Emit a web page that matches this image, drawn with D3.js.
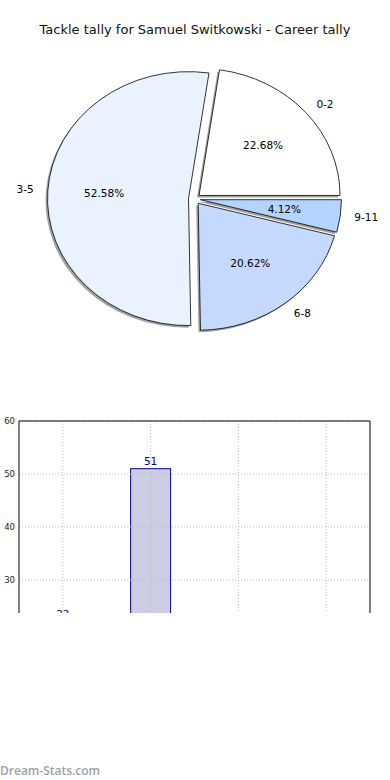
<!DOCTYPE html>
<html>
<head>
<meta charset="utf-8">
<script src="https://cdn.jsdelivr.net/npm/d3@7"></script>
<style>
  body { margin: 0; background: #fff; }
  svg { display: block; font-family: "DejaVu Sans", sans-serif; }
</style>
</head>
<body>
<svg id="chart" width="390" height="780"></svg>
<script>
const title = 'Tackle tally for Samuel Switkowski - Career tally';
const categories = ['0-2', '3-5', '6-8', '9-11'];
const tallies = [22, 51, 20, 4];
const sliceColors = ['#ffffff', '#eaf1ff', '#c5d9ff', '#b3d4ff'];
const yTicks = [30, 40, 50, 60];

const svg = d3.select('svg#chart');

svg.append('text')
  .attr('x', 195).attr('y', 34)
  .attr('text-anchor', 'middle')
  .attr('font-size', 13)
  .attr('fill', '#111')
  .text(title);

// ---- pie (matplotlib style: starts east, counterclockwise, squashed) ----
const rx = 141, ry = 127, explode = 6;
const cx = 194.5, cy = 199;
const total = d3.sum(tallies);

const pie = d3.pie().sort(null)
  .startAngle(Math.PI / 2)
  .endAngle(Math.PI / 2 - 2 * Math.PI);
const arcs = pie(tallies);
const arc = d3.arc().innerRadius(0).outerRadius(rx);

// unit direction of a slice's middle, screen coords
function mid(d) {
  const a = (d.startAngle + d.endAngle) / 2;
  return [Math.sin(a), -Math.cos(a)];
}
function shift(d, dx, dy) {
  const [ux, uy] = mid(d);
  return `translate(${cx + ux * explode + dx},${cy + uy * explode * ry / rx + dy})`;
}

const shadows = svg.append('g');
shadows.selectAll('path')
  .data(arcs)
  .join('path')
  .attr('transform', d => shift(d, -2, 2) + ` scale(1,${ry / rx})`)
  .attr('d', arc)
  .attr('fill', '#555')
  .attr('fill-opacity', 0.55);

const slices = svg.append('g').selectAll('g')
  .data(arcs)
  .join('g')
  .attr('transform', d => shift(d, 0, 0));

slices.append('path')
  .attr('transform', `scale(1,${ry / rx})`)
  .attr('d', arc)
  .attr('fill', (d, i) => sliceColors[i])
  .attr('stroke', '#000')
  .attr('stroke-width', 0.8)
  .attr('vector-effect', 'non-scaling-stroke');

slices.append('text')
  .attr('x', d => mid(d)[0] * rx * 1.1)
  .attr('y', d => mid(d)[1] * ry * 1.1)
  .attr('dy', '0.35em')
  .attr('text-anchor', d => mid(d)[0] > 0 ? 'start' : 'end')
  .attr('font-size', 10.5)
  .attr('fill', '#000')
  .text((d, i) => categories[i]);

slices.append('text')
  .attr('x', d => mid(d)[0] * rx * 0.6)
  .attr('y', d => mid(d)[1] * ry * 0.6)
  .attr('dy', '0.35em')
  .attr('text-anchor', 'middle')
  .attr('font-size', 10.5)
  .attr('fill', '#000')
  .text(d => (d.value / total * 100).toFixed(2) + '%');

// ---- bar chart (cut off at the bottom, as in the picture) ----
const plotLeft = 19, plotRight = 370, plotTop = 421, zeroY = 739;
const clipBottom = 613;

svg.append('defs').append('clipPath').attr('id', 'cut')
  .append('rect').attr('x', 0).attr('y', 0).attr('width', 390).attr('height', clipBottom);

const barG = svg.append('g').attr('clip-path', 'url(#cut)');

const x = d3.scaleBand().domain(categories).range([plotLeft, plotRight]);
const y = d3.scaleLinear().domain([0, 60]).range([zeroY, plotTop]);

barG.selectAll('rect.bar')
  .data(tallies)
  .join('rect')
  .attr('class', 'bar')
  .attr('x', (d, i) => x(categories[i]) + x.bandwidth() / 2 - 20)
  .attr('width', 40)
  .attr('y', d => y(d))
  .attr('height', d => y(0) - y(d))
  .attr('fill', '#cccce4')
  .attr('stroke', '#000080')
  .attr('stroke-width', 1);

barG.selectAll('text.val')
  .data(tallies)
  .join('text')
  .attr('class', 'val')
  .attr('x', (d, i) => x(categories[i]) + x.bandwidth() / 2)
  .attr('y', d => y(d) - 4)
  .attr('text-anchor', 'middle')
  .attr('font-size', 10.5)
  .attr('fill', '#000080')
  .text(d => d);

// grid
barG.selectAll('line.hgrid')
  .data(yTicks)
  .join('line')
  .attr('class', 'hgrid')
  .attr('x1', plotLeft).attr('x2', plotRight)
  .attr('y1', d => y(d)).attr('y2', d => y(d))
  .attr('stroke', '#bbb').attr('stroke-width', 1)
  .attr('stroke-dasharray', '1,2');

barG.selectAll('line.vgrid')
  .data(categories)
  .join('line')
  .attr('class', 'vgrid')
  .attr('x1', d => x(d) + x.bandwidth() / 2).attr('x2', d => x(d) + x.bandwidth() / 2)
  .attr('y1', plotTop).attr('y2', zeroY)
  .attr('stroke', '#bbb').attr('stroke-width', 1)
  .attr('stroke-dasharray', '1,2');

// frame
barG.append('path')
  .attr('d', `M${plotLeft},${zeroY}V${plotTop}H${plotRight}V${zeroY}`)
  .attr('fill', 'none')
  .attr('stroke', '#000')
  .attr('stroke-width', 1);

barG.selectAll('text.ytick')
  .data(yTicks)
  .join('text')
  .attr('class', 'ytick')
  .attr('x', plotLeft - 4)
  .attr('y', d => y(d))
  .attr('dy', '0.32em')
  .attr('text-anchor', 'end')
  .attr('font-size', 8.5)
  .attr('fill', '#222')
  .text(d => d);

svg.append('text')
  .attr('x', 0).attr('y', 775)
  .attr('font-size', 12)
  .attr('font-weight', 600)
  .attr('font-family', '"Open Sans", sans-serif')
  .attr('fill', '#a0a0a0')
  .text('Dream-Stats.com');
</script>
</body>
</html>
